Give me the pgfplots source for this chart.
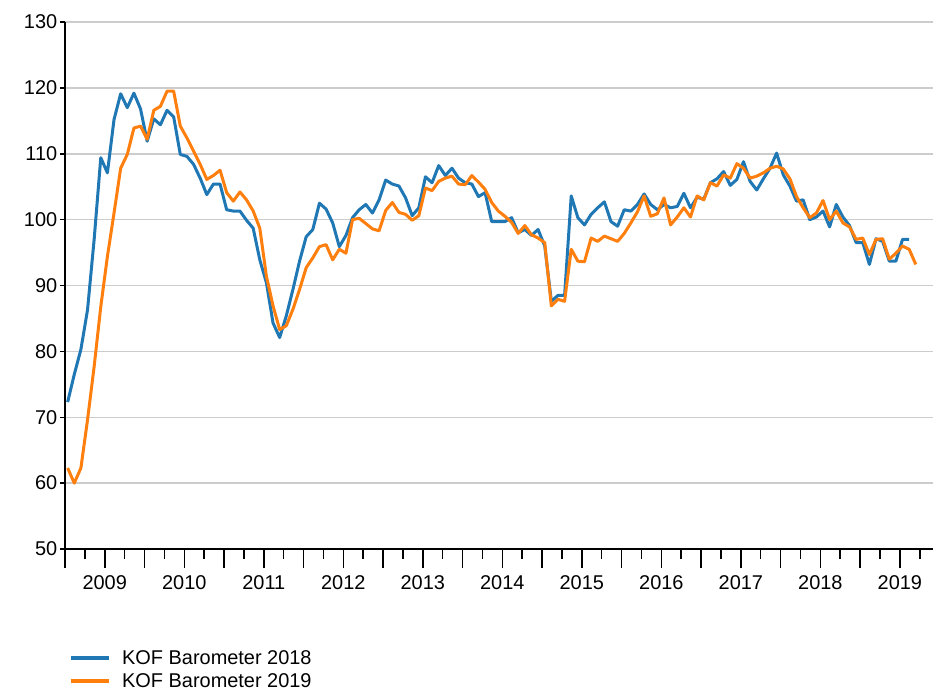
\documentclass[border=0pt]{standalone}
\usepackage{fontspec}
\setmainfont{Liberation Sans}
\usepackage{pgfplots}
\usepackage{pgfplotstable}
\pgfplotsset{compat=1.18}
\definecolor{kblue}{HTML}{1F77B4}
\definecolor{korange}{HTML}{FF7F0E}
\definecolor{kgrid}{HTML}{CCCCCC}

% month index i: 0 = Jan 2009
\pgfplotstableread{
i v
0 72.3
1 76.5
2 80.3
3 86.3
4 97.0
5 109.4
6 107.1
7 115.2
8 119.1
9 117.0
10 119.2
11 116.8
12 111.9
13 115.3
14 114.4
15 116.6
16 115.6
17 109.9
18 109.6
19 108.4
20 106.3
21 103.8
22 105.4
23 105.4
24 101.5
25 101.3
26 101.3
27 99.9
28 98.7
29 93.9
30 90.4
31 84.3
32 82.1
33 85.4
34 89.4
35 93.7
36 97.4
37 98.5
38 102.5
39 101.6
40 99.5
41 95.9
42 97.6
43 100.3
44 101.5
45 102.3
46 101.0
47 103.0
48 106.0
49 105.4
50 105.1
51 103.3
52 100.6
53 101.8
54 106.5
55 105.6
56 108.2
57 106.7
58 107.8
59 106.3
60 105.6
61 105.4
62 103.5
63 104.1
64 99.7
65 99.7
66 99.7
67 100.3
68 98.0
69 98.5
70 97.6
71 98.5
72 96.0
73 87.6
74 88.5
75 88.5
76 103.6
77 100.3
78 99.2
79 100.8
80 101.8
81 102.7
82 99.7
83 99.0
84 101.5
85 101.3
86 102.3
87 103.9
88 102.3
89 101.5
90 102.3
91 101.8
92 102.0
93 104.0
94 101.8
95 103.4
96 103.1
97 105.6
98 106.2
99 107.3
100 105.2
101 106.1
102 108.8
103 105.8
104 104.5
105 106.2
106 107.8
107 110.1
108 106.8
109 105.1
110 102.8
111 103.0
112 100.0
113 100.4
114 101.3
115 98.9
116 102.3
117 100.4
118 99.1
119 96.5
120 96.5
121 93.2
122 97.1
123 96.7
124 93.7
125 93.7
126 97.0
127 97.0
}\kofA

\pgfplotstableread{
i v
0 62.3
1 60.0
2 62.3
3 69.6
4 77.7
5 86.8
6 94.4
7 101.0
8 107.8
9 109.9
10 113.9
11 114.2
12 112.2
13 116.6
14 117.2
15 119.5
16 119.5
17 114.2
18 112.4
19 110.4
20 108.4
21 106.1
22 106.7
23 107.5
24 104.1
25 102.8
26 104.2
27 103.0
28 101.3
29 98.7
30 91.4
31 86.9
32 83.3
33 83.9
34 86.4
35 89.4
36 92.7
37 94.2
38 95.9
39 96.2
40 93.9
41 95.5
42 94.9
43 100.0
44 100.2
45 99.4
46 98.6
47 98.3
48 101.4
49 102.6
50 101.1
51 100.8
52 99.9
53 100.6
54 104.8
55 104.4
56 105.8
57 106.3
58 106.6
59 105.4
60 105.3
61 106.7
62 105.7
63 104.6
64 102.6
65 101.3
66 100.5
67 99.6
68 97.9
69 99.1
70 97.7
71 97.2
72 96.5
73 86.9
74 87.9
75 87.6
76 95.5
77 93.7
78 93.6
79 97.2
80 96.7
81 97.5
82 97.1
83 96.7
84 97.9
85 99.5
86 101.2
87 103.6
88 100.5
89 100.9
90 103.3
91 99.2
92 100.4
93 101.8
94 100.4
95 103.6
96 103.0
97 105.6
98 105.1
99 106.8
100 106.3
101 108.5
102 107.8
103 106.3
104 106.6
105 107.1
106 107.8
107 108.1
108 107.7
109 106.2
110 103.5
111 101.8
112 100.3
113 101.0
114 102.9
115 100.0
116 101.3
117 99.5
118 98.9
119 97.0
120 97.2
121 94.7
122 97.0
123 97.1
124 94.0
125 94.9
126 96.0
127 95.5
128 93.2
}\kofB

\begin{document}
\begin{tikzpicture}
\path[use as bounding box] (-65bp,-142bp) rectangle (868bp,549bp);
\begin{axis}[
  at={(0,0)}, anchor=south west,
  scale only axis, width=868bp, height=527bp,
  xmin=-0.4, xmax=130.6, ymin=50, ymax=130,
  axis lines=left,
  axis line style={-, line width=2bp, black},
  tick align=outside,
  tick style={black, line width=1.5bp},
  /pgf/number format/assume math mode=true,
  every tick label/.append style={font=\fontsize{20}{24}\selectfont, text=black},
  ytick={50,60,...,130},
  ytick style={/pgfplots/major tick length=5bp},
  ymajorgrids,
  grid style={kgrid, line width=1.5bp},
  xtick={-0.4,11.6,...,120},
  xticklabels={},
  minor xtick={-0.4,2.6,...,130},
  xtick style={/pgfplots/major tick length=19bp, /pgfplots/minor tick length=10bp},
  extra x ticks={5.6,17.6,...,126},
  extra x tick labels={2009,2010,2011,2012,2013,2014,2015,2016,2017,2018,2019},
  extra x tick style={major tick length=0pt, xticklabel style={yshift=-23bp}},
  legend style={at={(axis description cs:0.0046,-0.1917)}, anchor=north west,
    draw=none, fill=none, font=\fontsize{20}{24}\selectfont,
    inner sep=0pt, row sep=8bp, nodes={inner sep=0pt},
    /tikz/every odd column/.append style={column sep=11bp}},
  legend cell align=left,
  legend image code/.code={\draw[#1, line width=4bp] (0bp,0bp) -- (38bp,0bp);},
]
\addplot[kblue, line width=3bp, line join=round] table[x=i, y=v] {\kofA};
\addlegendentry{KOF Barometer 2018}
\addplot[korange, line width=3bp, line join=round] table[x=i, y=v] {\kofB};
\addlegendentry{KOF Barometer 2019}
\end{axis}
\end{tikzpicture}
\end{document}
